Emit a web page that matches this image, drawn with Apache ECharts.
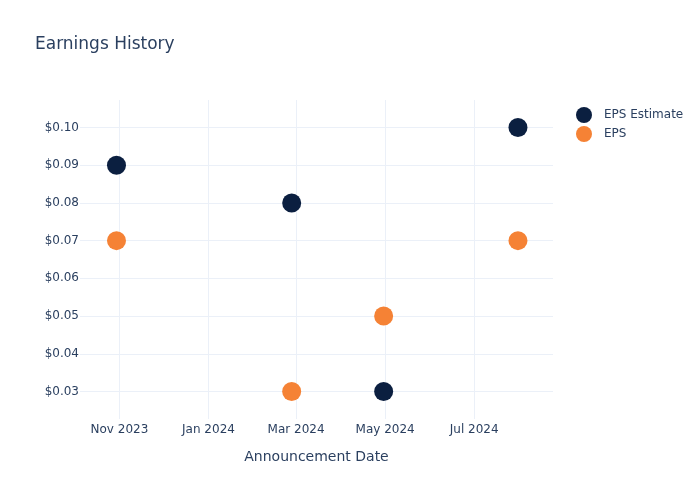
<!DOCTYPE html>
<html>
<head>
<meta charset="utf-8">
<script src="https://cdn.jsdelivr.net/npm/echarts@6/dist/echarts.min.js"></script>
<style>html,body{margin:0;padding:0;background:#fff;}#c{width:700px;height:500px;}</style>
</head>
<body>
<div id="c"></div>
<script>
const dates = ['2023-10-30', '2024-02-27', '2024-04-30', '2024-07-31'];
const epsEstimate = [0.09, 0.08, 0.03, 0.10];
const eps = [0.07, 0.03, 0.05, 0.07];
const xTickDates = ['2023-11-01', '2024-01-01', '2024-03-01', '2024-05-01', '2024-07-01'];
const yTicks = [0.03, 0.04, 0.05, 0.06, 0.07, 0.08, 0.09, 0.10];
const monthNames = ['Jan','Feb','Mar','Apr','May','Jun','Jul','Aug','Sep','Oct','Nov','Dec'];

const FONT = 'DejaVu Sans';
const TXT = '#2a3f5f';
const GRID = '#ebf0f8';
const ts = d => Date.UTC(+d.slice(0,4), +d.slice(5,7)-1, +d.slice(8,10));

const chart = echarts.init(document.getElementById('c'), null, {renderer: 'canvas'});
chart.setOption({
  animation: false,
  backgroundColor: '#fff',
  textStyle: {fontFamily: FONT},
  title: {
    text: 'Earnings History', left: 30, top: 31,
    textStyle: {fontFamily: FONT, fontSize: 17, fontWeight: 'normal', color: TXT}
  },
  legend: {
    orient: 'vertical', left: 571, top: 102, itemGap: 3,
    itemWidth: 20, itemHeight: 16, icon: 'circle',
    textStyle: {fontFamily: FONT, fontSize: 12, color: TXT, padding: [0, 0, 0, 5]},
    data: ['EPS Estimate', 'EPS']
  },
  grid: {left: 80, right: 147, top: 100, bottom: 81, containLabel: false},
  xAxis: {
    type: 'value',
    min: ts('2023-10-05'), max: ts('2024-08-24'),
    name: 'Announcement Date', nameLocation: 'middle', nameGap: 31,
    nameTextStyle: {fontFamily: FONT, fontSize: 14, color: TXT},
    axisLine: {show: false},
    axisTick: {show: false, customValues: xTickDates.map(ts)},
    axisLabel: {
      customValues: xTickDates.map(ts),
      fontFamily: FONT, fontSize: 12, color: TXT, margin: 5,
      formatter: v => { const d = new Date(v); return monthNames[d.getUTCMonth()] + ' ' + d.getUTCFullYear(); }
    },
    splitLine: {show: true, lineStyle: {color: GRID, width: 1}}
  },
  yAxis: {
    type: 'value', min: 0.0227, max: 0.1073,
    axisLine: {show: false},
    axisTick: {show: false, customValues: yTicks},
    axisLabel: {
      customValues: yTicks,
      fontFamily: FONT, fontSize: 12, color: TXT, margin: 1,
      formatter: v => '$' + v.toFixed(2)
    },
    splitLine: {show: true, lineStyle: {color: GRID, width: 1}}
  },
  series: [
    {
      name: 'EPS Estimate', type: 'scatter', symbolSize: 19,
      itemStyle: {color: '#0b1f40', opacity: 1},
      data: dates.map((d, i) => [ts(d), epsEstimate[i]])
    },
    {
      name: 'EPS', type: 'scatter', symbolSize: 19,
      itemStyle: {color: '#f58235', opacity: 1},
      data: dates.map((d, i) => [ts(d), eps[i]])
    }
  ]
});
</script>
</body>
</html>
